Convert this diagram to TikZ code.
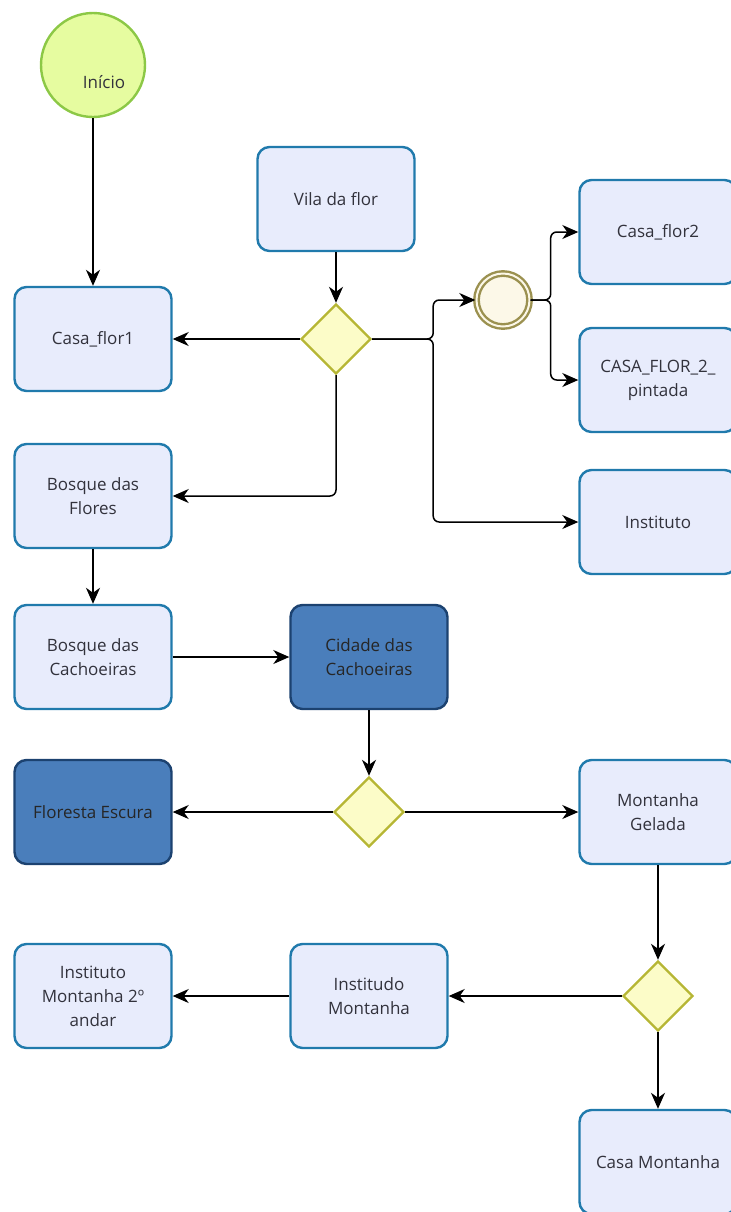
\documentclass[tikz,border=0pt]{standalone}
\usepackage{fontspec}
\setmainfont{Open Sans}
\usetikzlibrary{arrows.meta, shapes.geometric}
\definecolor{TaskFill}{RGB}{232,236,252}
\definecolor{TaskDraw}{RGB}{32,122,172}
\definecolor{DarkFill}{RGB}{74,126,187}
\definecolor{DarkDraw}{RGB}{28,66,112}
\definecolor{GateFill}{RGB}{252,252,200}
\definecolor{GateDraw}{RGB}{182,182,52}
\definecolor{StartFill}{RGB}{230,252,160}
\definecolor{StartDraw}{RGB}{140,200,70}
\definecolor{EventFill}{RGB}{252,248,232}
\definecolor{EventDraw}{RGB}{155,145,80}
\definecolor{TextGray}{RGB}{50,50,60}

\begin{document}
\begin{tikzpicture}[x = 0.5pt, y = -0.5pt, font = \fontsize{8.5}{12}\selectfont]%
    %
    \def\taskwidth{78.5pt}%
    \def\taskheight{52pt}%
    %
    \tikzstyle{task} = [rectangle, rounded corners = 6pt, line width = 1.2pt, draw = TaskDraw, fill = TaskFill, text = TextGray, align = center, minimum width = \taskwidth, minimum height = \taskheight]%
    \tikzstyle{darktask} = [task, draw = DarkDraw, fill = DarkFill, text = black!85]%
    \tikzstyle{gateway} = [diamond, draw = GateDraw, fill = GateFill, line width = 1.2pt, minimum width = 35pt, minimum height = 35pt, inner sep = 0pt]%
    \tikzstyle{startevent} = [circle, draw = StartDraw, fill = StartFill, line width = 1.2pt, minimum size = 52pt, inner sep = 0pt]%
    \tikzstyle{midevent} = [circle, draw = EventDraw, double = EventFill, double distance = 1pt, line width = 1.2pt, fill = EventFill, minimum size = 26.5pt, inner sep = 0pt]%
    \tikzstyle{flow} = [-{Stealth[length = 8pt, width = 7pt, inset = 2.5pt]}, line width = 0.75pt, draw = black, rounded corners = 3pt]%
    %
    \useasboundingbox (0, 0) rectangle (731, 1212);%
    %
    % Start
    \node (start) [startevent] at (93, 65) {};%
    \node (startlabel) [text = TextGray] at (104, 82) {Início};%
    %
    % Vila da flor
    \node (casaflorum) [task] at (93, 339) {Casa\_flor1};%
    \node (vila) [task] at (336, 199) {Vila da flor};%
    \node (gwvila) [gateway] at (336, 339) {};%
    \node (evt) [midevent] at (503, 300) {};%
    \node (casaflordois) [task] at (658, 232) {Casa\_flor2};%
    \node (casaflorpintada) [task] at (658, 380) {CASA\_FLOR\_2\_\\pintada};%
    \node (instituto) [task] at (658, 522) {Instituto};%
    %
    % Bosques
    \node (bosqueflores) [task] at (93, 496) {Bosque das\\Flores};%
    \node (bosquecachoeiras) [task] at (93, 657) {Bosque das\\Cachoeiras};%
    \node (cidade) [darktask] at (369, 657) {Cidade das\\Cachoeiras};%
    \node (gwcidade) [gateway] at (369, 812) {};%
    \node (floresta) [darktask] at (93, 812) {Floresta Escura};%
    %
    % Montanha
    \node (montanha) [task] at (658, 812) {Montanha\\Gelada};%
    \node (gwmontanha) [gateway] at (658, 996) {};%
    \node (institudo) [task] at (369, 996) {Institudo\\Montanha};%
    \node (andar) [task] at (93, 996) {Instituto\\Montanha 2º\\andar};%
    \node (casamontanha) [task] at (658, 1162) {Casa Montanha};%
    %
    % Flows
    \draw [flow] (start) -- (casaflorum);%
    \draw [flow] (vila) -- (gwvila);%
    \draw [flow] (gwvila) -- (casaflorum);%
    \draw [flow] (gwvila.south) |- (bosqueflores.east);%
    \draw [flow] (gwvila.east) -- ++(61, 0) |- (evt.west);%
    \draw [flow] (gwvila.east) -- ++(61, 0) |- (instituto.west);%
    \draw [flow] (evt.east) -- ++(20, 0) |- (casaflordois.west);%
    \draw [flow] (evt.east) -- ++(20, 0) |- (casaflorpintada.west);%
    \draw [flow] (bosqueflores) -- (bosquecachoeiras);%
    \draw [flow] (bosquecachoeiras) -- (cidade);%
    \draw [flow] (cidade) -- (gwcidade);%
    \draw [flow] (gwcidade) -- (floresta);%
    \draw [flow] (gwcidade) -- (montanha);%
    \draw [flow] (montanha) -- (gwmontanha);%
    \draw [flow] (gwmontanha) -- (institudo);%
    \draw [flow] (institudo) -- (andar);%
    \draw [flow] (gwmontanha) -- (casamontanha);%
    %
\end{tikzpicture}
\end{document}
